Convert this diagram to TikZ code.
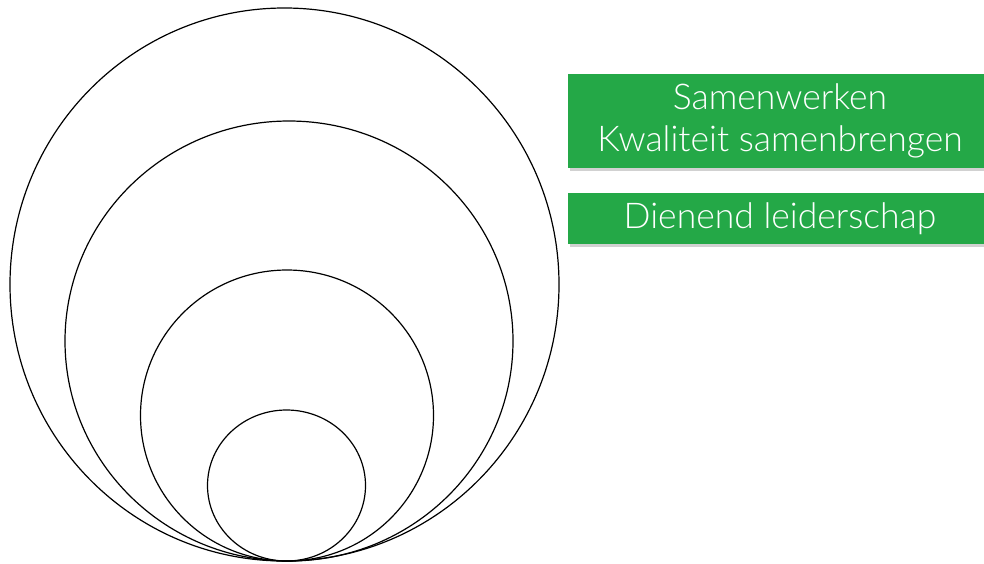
\documentclass[tikz,border=0pt]{standalone}
\usepackage{fontspec}
\newfontfamily\boxfont{Lato Light}
\usetikzlibrary{shadows}
\definecolor{boxgreen}{RGB}{36,168,71}
\tikzset{
    ring/.style={draw=black, line width=1.2pt},
    greenbox/.style={fill=boxgreen, text=white, font=\boxfont\fontsize{35.5}{42}\selectfont,
        align=center, inner sep=0pt, minimum width=424pt,
        drop shadow={shadow xshift=2pt, shadow yshift=-3pt, opacity=0.3, fill=black!60}}
}
\begin{document}
\begin{tikzpicture}[x=1pt, y=-1pt]
    \useasboundingbox (0,0) rectangle (984,563);

    % ===== Nested circles (all touching at the bottom) =====
    \draw[ring] (284.5, 284.5) ellipse [x radius=274.5, y radius=276.5];
    \draw[ring] (289, 341) ellipse [x radius=224, y radius=220];
    \draw[ring] (287, 415.5) ellipse [x radius=146.5, y radius=145.5];
    \draw[ring] (286.5, 485.5) ellipse [x radius=79, y radius=75.5];

    % ===== Green labels (right side) =====
    \node[greenbox, minimum height=94pt] (samen) at (780, 121) {Samenwerken\\Kwaliteit samenbrengen};
    \node[greenbox, minimum height=51pt] (dienend) at (780, 218.5) {Dienend leiderschap};
\end{tikzpicture}
\end{document}
